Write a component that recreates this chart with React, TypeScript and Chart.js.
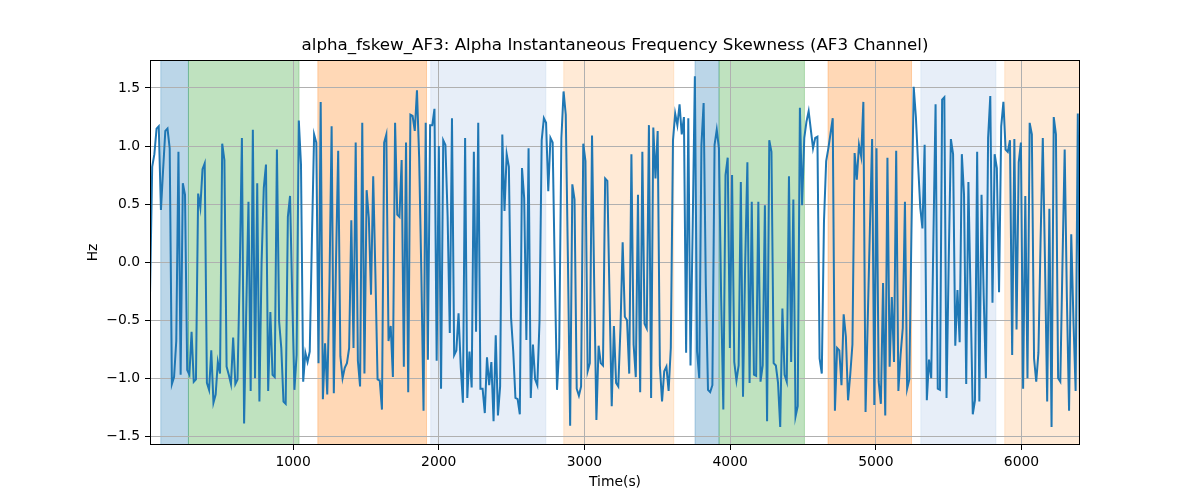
import { useEffect, useRef } from "react";
import { Chart, registerables } from "chart.js";

Chart.register(...registerables);

const TITLE = "alpha_fskew_AF3: Alpha Instantaneous Frequency Skewness (AF3 Channel)";
const X_LABEL = "Time(s)";
const Y_LABEL = "Hz";

// sampling of the series (seconds)
const T_START = 18;
const T_STEP = 15.02;

// series values in six consecutive stretches
const valuesA = [
  -0.28, 0.82, 0.93, 1.15, 1.17, 0.45, 0.8, 1.13, 1.15, 0.98,
  -1.05, -0.99, -0.68, 0.95, -0.97, 0.68, 0.58, -0.93, -0.97, -0.6,
  -1.03, -1.01, 0.59, 0.47, 0.8, 0.85, -1.04, -1.1, -0.76, -1.21,
  -1.14, -0.86, -0.96, 1.02, 0.88, -0.9, -0.97, -1.05, -0.65, -1.05,
  -1.01, -0.1, 1.07, -1.39, -0.4, 0.52, -1.11, 1.14, -1.0, 0.68,
  -1.2, 0.0, 0.64, 0.84, -1.11, -0.43, -0.97, -0.99, 0.97, -0.51,
  -0.74, -1.2, -1.22, 0.39, 0.57, -0.3, -1.1, -0.8, 1.22, 0.84,
  -1.03, -0.78, -0.86, -0.77,
];
const valuesB = [
  0.2, 1.1, 1.03, -0.87, 1.38, -1.18, -0.7, -1.14, -0.2, 1.17,
  -1.13, 0.0, 0.96, -0.81, -1.0, -0.91, -0.87, -0.74, 0.36, -0.74,
  1.03, -0.85, -1.07, 1.2, -0.96, 0.62, 0.38, -0.28, 0.74, -0.1,
  -1.01, -1.02, -1.27, 1.03, 1.1, -0.68, -0.55, -0.99, 1.2, 0.41,
  0.39, 0.88, -0.9, 1.03, -1.12, 1.27, 1.26, 1.13, 1.48, 0.9,
  -0.1, -1.28, 1.2, -0.84, 1.18, 1.18, 1.32, -0.85, 1.0, -1.09,
  1.05, 1.01, 0.4, -0.61, 1.24, -0.8, -0.76, -0.44, -0.9, -1.21,
];
const valuesC = [
  1.07, -1.17, -0.77, -1.08, 0.95, -0.6, 1.2, -1.09, -1.09, -1.3,
  -0.82, -1.06, -0.86, -1.37, -0.63, -1.32, -1.07, 1.1, 0.44, 0.93,
  0.82, -0.48, -0.77, -1.17, -1.18, -1.31, 0.81, 0.55, -0.67, 0.98,
  -1.17, -0.71, -1.01, -1.06, -0.51, 1.05, 1.24, 1.2, 0.61, 1.07,
  1.03, -0.1, -1.1, -0.74, 1.07, 1.47, 1.27, 0.0, -1.41, 0.67,
  0.54, -1.09, -1.15, -1.07, 1.02, 0.87, -0.94, -0.87, 1.09, -0.2,
  -1.36, -0.72, -0.87, -0.89, 0.72, 0.7, -0.3, -1.24, -0.55, -1.04,
  -1.07, -0.57, 0.17,
];
const valuesD = [
  -0.47, -0.5, -0.96, 0.93, -0.71, -0.99, 0.58, -1.12, 0.95, -0.53,
  -0.57, 1.18, -1.17, 1.16, 0.72, 1.13, -0.89, -1.2, -0.94, -0.9,
  -1.11, -0.74, 1.05, 1.28, 1.18, 1.36, 1.1, 1.25, -0.78, 1.24,
  -0.89, 0.3, 1.6, -0.77, -1.0, 1.01, 1.37, -0.2, -1.1, -1.12,
  -1.06, 1.01, 1.14, 0.98, -0.3, -1.27, 0.75, 0.9, -0.74, 0.75,
  -0.86, -1.02, -0.89, 0.69, -1.16, 0.0, 0.86, -1.04, 0.52, -0.97,
  -0.98, 0.52, -1.03, -0.89, 0.49, -1.37, 1.05, 0.95, -0.87, -0.89,
  -1.04, -1.42, -0.4, -0.97,
];
const valuesE = [
  -1.03, 0.74, -0.86, 0.54, -1.33, -1.24, 1.33, 0.49, 1.07, 1.21,
  1.3, 1.14, 0.98, 1.07, 1.08, -0.83, -0.96, 0.35, 0.87, 0.98,
  1.11, 1.24, -1.28, -0.74, -0.76, -1.06, -0.45, -0.64, -1.19, -0.97,
  -0.71, 0.94, 0.71, 1.01, 0.91, 1.38, -1.29, -0.5, 0.3, 1.06,
  -1.23, 0.98, -1.03, -1.22, -0.18, -1.32, 0.9, -0.9, -0.3, -0.86,
  0.96, -1.11, -0.8, -0.57, 0.52, -1.09, -1.01, 0.3, 1.51, 1.25,
  0.85, 0.47, 0.29, 1.01, -1.19, -0.84, -1.0, 0.2, 1.36, -1.09,
  -1.1, 1.4, 1.42,
];
const valuesF = [
  -1.17, 0.0, 1.06, 0.93, -0.72, -0.24, -0.69, 0.93, 0.58, -1.05,
  0.69, -0.3, -1.31, -1.19, 0.95, -1.2, 0.58, -0.3, -1.0, 1.07,
  1.43, -0.35, 0.93, 0.81, -0.26, 1.17, 1.38, 0.97, 0.95, 1.05,
  -0.8, 1.06, -0.58, 0.86, 1.03, -1.09, 0.57, -1.0, 1.2, 1.1,
  -0.83, -1.03, -0.78, 0.2, 1.07, 0.0, -1.2, 0.46, -1.42, 1.25,
  1.1, -1.0, -1.03, 0.0, 0.97, -0.3, -1.28, 0.24, -0.5, -1.11,
  1.28, -1.16,
];

const values = [...valuesA, ...valuesB, ...valuesC, ...valuesD, ...valuesE, ...valuesF];
const times = values.map((_, i) => T_START + i * T_STEP);

// shaded intervals (seconds)
const spanStarts = [92, 282, 1170, 1945, 2858, 3759, 3924, 4672, 5309, 5885];
const spanEnds = [282, 1041, 1916, 2735, 3613, 3924, 4510, 5245, 5824, 6402];
const spanColors = [
  "rgba(31,119,180,0.3)",
  "rgba(44,160,44,0.3)",
  "rgba(255,127,14,0.3)",
  "rgba(174,199,232,0.3)",
  "rgba(255,187,120,0.3)",
  "rgba(31,119,180,0.3)",
  "rgba(44,160,44,0.3)",
  "rgba(255,127,14,0.3)",
  "rgba(174,199,232,0.3)",
  "rgba(255,187,120,0.3)",
];

const xTicks = [1000, 2000, 3000, 4000, 5000, 6000];
const yTicks = [-1.5, -1.0, -0.5, 0.0, 0.5, 1.0, 1.5];
const Y_MIN = -1.575;
const Y_MAX = 1.741;

const FONT = "'DejaVu Sans', sans-serif";

const spanPlugin = {
  id: "spans",
  beforeDraw(chart: any) {
    const { ctx, chartArea, scales } = chart;
    const xs = scales.x;
    ctx.save();
    ctx.beginPath();
    ctx.rect(chartArea.left, chartArea.top, chartArea.right - chartArea.left, chartArea.bottom - chartArea.top);
    ctx.clip();
    for (let i = 0; i < spanStarts.length; i++) {
      const x0 = xs.getPixelForValue(spanStarts[i]);
      const x1 = xs.getPixelForValue(spanEnds[i]);
      ctx.fillStyle = spanColors[i];
      ctx.fillRect(x0, chartArea.top, x1 - x0, chartArea.bottom - chartArea.top);
      ctx.strokeStyle = spanColors[i];
      ctx.lineWidth = 1;
      ctx.strokeRect(x0, chartArea.top, x1 - x0, chartArea.bottom - chartArea.top);
    }
    ctx.restore();
  },
  afterDatasetsDraw(chart: any) {
    const { ctx, chartArea } = chart;
    ctx.save();
    ctx.strokeStyle = "#000";
    ctx.lineWidth = 1;
    ctx.strokeRect(
      Math.round(chartArea.left) + 0.5,
      Math.round(chartArea.top) + 0.5,
      Math.round(chartArea.right - chartArea.left) - 1,
      Math.round(chartArea.bottom - chartArea.top) - 1
    );
    // title centred over the plotting area
    ctx.fillStyle = "#000";
    ctx.font = `16.7px ${FONT}`;
    ctx.textAlign = "center";
    ctx.textBaseline = "middle";
    ctx.fillText(TITLE, (chartArea.left + chartArea.right) / 2, 46);
    ctx.restore();
  },
};

const fmtY = (v: number) => Number(v).toFixed(1).replace("-", "\u2212");

export default function App() {
  const ref = useRef<HTMLCanvasElement | null>(null);

  useEffect(() => {
    if (!ref.current) return;
    const chart = new Chart(ref.current, {
      type: "line",
      data: {
        datasets: [
          {
            data: times.map((t, i) => ({ x: t, y: values[i] })),
            borderColor: "#1f77b4",
            borderWidth: 2,
            pointRadius: 0,
            tension: 0,
            fill: false,
          },
        ],
      },
      options: {
        animation: false,
        responsive: false,
        events: [],
        layout: { padding: { left: 0, right: 120, top: 60, bottom: 0 } },
        plugins: {
          legend: { display: false },
          tooltip: { enabled: false },
          title: { display: false },
        },
        scales: {
          x: {
            type: "linear",
            min: times[0],
            max: times[times.length - 1],
            afterBuildTicks: (scale: any) => {
              scale.ticks = xTicks.map((value) => ({ value }));
            },
            afterFit: (scale: any) => {
              scale.height = 55;
            },
            ticks: {
              color: "#000",
              font: { family: FONT, size: 13.9 },
              padding: 4,
              maxRotation: 0,
              autoSkip: false,
              callback: (v: any) => String(v),
            },
            grid: {
              color: "#b0b0b0",
              lineWidth: 1,
              tickLength: 5,
              tickColor: "#000",
              tickWidth: 1,
            },
            border: { display: false },
            title: {
              display: true,
              text: X_LABEL,
              color: "#000",
              font: { family: FONT, size: 13.9 },
              padding: { top: 0, bottom: 9 },
            },
          },
          y: {
            type: "linear",
            min: Y_MIN,
            max: Y_MAX,
            afterBuildTicks: (scale: any) => {
              scale.ticks = yTicks.map((value) => ({ value }));
            },
            afterFit: (scale: any) => {
              scale.width = 150;
            },
            ticks: {
              color: "#000",
              font: { family: FONT, size: 13.9 },
              padding: 5,
              autoSkip: false,
              callback: (v: any) => fmtY(v),
            },
            grid: {
              color: "#b0b0b0",
              lineWidth: 1,
              tickLength: 5,
              tickColor: "#000",
              tickWidth: 1,
            },
            border: { display: false },
            title: {
              display: true,
              text: Y_LABEL,
              color: "#000",
              font: { family: FONT, size: 13.9 },
              padding: { top: 85, bottom: 0 },
            },
          },
        },
      },
      plugins: [spanPlugin],
    } as any);
    return () => chart.destroy();
  }, []);

  return (
    <div style={{ position: "absolute", left: 0, top: 0, width: 1200, height: 500, background: "#fff" }}>
      <canvas ref={ref} width={1200} height={500} style={{ display: "block" }} />
    </div>
  );
}
